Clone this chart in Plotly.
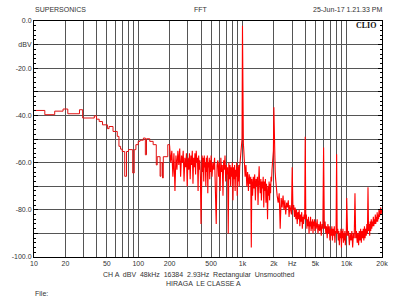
import math
import plotly.graph_objects as go

# Low-frequency part of the FFT (drawn as bins / steps)
low_freq = [10, 12.7, 15.8, 19.0, 21.1, 27.3, 29.3, 37.9, 39.8, 42.2, 45.4, 50.6, 52.5,
            57.3, 62.9, 65.3, 67.7, 70.2, 74.2, 77.2, 80.6, 88.5, 91.5, 95, 100, 104,
            112, 117, 120, 129, 139, 149, 152, 162, 165, 171, 174, 192, 200]
low_db = [-37.9, -39.7, -38.2, -37.3, -39.3, -37.6, -41.1, -40.2, -41.6, -42.6, -44.0, -45.6, -44.7,
          -46.8, -48.9, -53.1, -54.3, -55.3, -65.8, -55.3, -54.5, -64.4, -54.5, -52.4, -51.0, -50.5,
          -49.6, -56.7, -49.9, -51.0, -52.4, -61.0, -57.5, -65.8, -60.0, -66.5, -57.5, -52.4, -53.0]

# 200 Hz - 500 Hz
band1_freq = [200, 205, 210, 215, 220, 225, 230, 235, 240, 245, 250, 255, 260, 265, 270, 275, 280, 285, 290, 295,
              300, 305, 310, 315, 320, 325, 330, 335, 340, 345, 350, 355, 360, 365, 370, 375, 380, 385, 390, 395,
              400, 405, 410, 415, 420, 425, 430, 435, 440, 445, 450, 455, 460, 465, 470, 475, 480, 485, 490, 495]
band1_db = [-53, -60, -55, -66, -56, -72, -57, -63, -55, -61, -54, -66, -57, -60, -55, -68, -58, -62, -56, -70,
            -58, -63, -56, -67, -57, -61, -55, -69, -58, -62, -56, -65, -55, -60, -58, -72, -57, -63, -59, -66,
            -86, -61, -57, -64, -58, -68, -57, -62, -60, -70, -58, -64, -57, -73, -60, -62, -58, -67, -59, -64]

# 500 Hz - 1.03 kHz (fundamental at 1 kHz)
band2_freq = [500, 510, 520, 530, 540, 550, 560, 570, 580, 590, 600, 610, 620, 630, 640, 650, 660, 670, 680, 690,
              700, 710, 720, 730, 740, 750, 760, 770, 780, 790, 800, 810, 820, 830, 840, 850, 860, 870, 880, 890,
              900, 910, 920, 930, 940, 950, 960, 970, 980, 990, 1000, 1010, 1020, 1030]
band2_db = [-57, -66, -60, -63, -58, -70, -86, -61, -59, -66, -60, -72, -58, -64, -61, -74, -59, -63, -57, -68,
            -61, -65, -62, -90, -60, -67, -61, -70, -62, -66, -60, -76, -62, -67, -61, -72, -63, -66, -60, -74,
            -62, -68, -61, -70, -62, -60, -57, -55, -52, -50, -2, -49, -52, -55]

# 1.04 kHz - 2.1 kHz (2nd harmonic at 2 kHz)
band3_freq = [1040, 1060, 1080, 1100, 1120, 1140, 1160, 1180, 1200, 1215, 1230, 1250, 1270, 1290, 1310, 1330,
              1350, 1370, 1390, 1410, 1430, 1445, 1460, 1480, 1500, 1520, 1540, 1560, 1580, 1600, 1620, 1640,
              1660, 1680, 1700, 1720, 1740, 1760, 1780, 1800, 1820, 1840, 1860, 1880, 1900, 1920, 1940, 1960,
              1980, 2000, 2020, 2040, 2060, 2080, 2100]
band3_db = [-58, -66, -61, -70, -64, -72, -65, -69, -66, -96, -67, -74, -66, -71, -65, -76,
            -67, -70, -66, -78, -67, -61.6, -69, -73, -67, -76, -68, -71, -66, -79, -68, -72,
            -67, -77, -69, -73, -84, -70, -74, -68, -76, -69, -73, -66, -68, -63, -61, -58,
            -55, -36.5, -56, -60, -64, -67, -70]

# 2.15 kHz - 4.95 kHz
band4_freq = [2150, 2200, 2250, 2300, 2350, 2400, 2450, 2500, 2550, 2600, 2650, 2700, 2750, 2800, 2850, 2900,
              2950, 3000, 3050, 3100, 3150, 3200, 3250, 3300, 3350, 3400, 3450, 3500, 3550, 3600, 3650, 3700,
              3750, 3800, 3850, 3900, 3950, 4000, 4050, 4100, 4150, 4200, 4250, 4300, 4350, 4400, 4450, 4500,
              4550, 4600, 4650, 4700, 4750, 4800, 4850, 4900, 4950]
band4_db = [-74, -77, -73, -88, -75, -79, -74, -80, -76, -82, -77, -79, -76, -83, -78, -80,
            -82, -62, -80, -78, -83, -79, -84, -80, -86, -81, -84, -80, -87, -82, -85, -81,
            -88, -83, -86, -82, -84, -49, -84, -82, -88, -84, -87, -83, -90, -85, -87, -83,
            -89, -85, -88, -84, -90, -85, -87, -84, -89]

# 5 kHz - 10 kHz
band5_freq = [5000, 5100, 5200, 5300, 5400, 5500, 5600, 5700, 5800, 5900, 6000, 6100, 6200, 6300, 6400, 6500,
              6600, 6700, 6800, 6900, 7000, 7100, 7200, 7300, 7400, 7500, 7600, 7700, 7800, 7900, 8000, 8100,
              8200, 8300, 8400, 8500, 8600, 8700, 8800, 8900, 9000, 9100, 9200, 9300, 9400, 9500, 9600, 9700,
              9800, 9900, 10000]
band5_db = [-85, -88, -84, -90, -86, -89, -85, -91, -86, -88, -53.6, -88, -85, -90, -87, -92,
            -86, -90, -87, -93, -88, -91, -87, -93, -88, -91, -87, -94, -89, -90, -56.5, -90,
            -88, -93, -89, -95, -90, -92, -88, -96, -89, -92, -88, -94, -90, -93, -89, -95,
            -90, -91, -75]

# 10.2 kHz - 21.8 kHz
band6_freq = [10200, 10400, 10600, 10800, 11000, 11200, 11400, 11600, 11800, 12000, 12200, 12400, 12600, 12800,
              13000, 13200, 13400, 13600, 13800, 14000, 14200, 14400, 14600, 14800, 15000, 15200, 15400, 15600,
              15800, 16000, 16200, 16400, 16600, 16800, 17000, 17200, 17400, 17600, 17800, 18000, 18200, 18400,
              18600, 18800, 19000, 19200, 19400, 19600, 19800, 20000, 20200, 20400, 20600, 20800, 21000, 21200,
              21400, 21600, 21800]
band6_db = [-91, -89, -95, -90, -93, -89, -96, -90, -92, -73, -92, -89, -94, -90,
            -95, -89, -93, -88, -94, -89, -92, -88, -93, -87, -92, -88, -91, -86,
            -90, -70.5, -89, -86, -91, -85, -89, -84, -88, -85, -87, -83, -87, -84,
            -86, -82, -86, -83, -85, -81, -85, -82, -84, -80, -83, -81, -82, -79,
            -82, -80, -81]

x_tick_vals = [10, 20, 30, 40, 50, 60, 70, 80, 90, 100, 200, 300, 400, 500, 600, 700, 800, 900,
               1000, 2000, 3000, 4000, 5000, 6000, 7000, 8000, 9000, 10000, 21800]
x_tick_text = ["10", "20", "", "", "50", "", "", "", "", "100", "200", "", "", "500", "", "", "", "",
               "1k", "2k", "Hz", "", "5k", "", "", "", "", "10k", "20k"]
y_tick_vals = [0, -10, -20, -30, -40, -50, -60, -70, -80, -90, -100]
y_tick_text = ["0.0", "dBV", "-20.0", "", "-40.0", "", "-60.0", "", "-80.0", "", "-100.0"]

bands = [(band1_freq, band1_db), (band2_freq, band2_db), (band3_freq, band3_db),
         (band4_freq, band4_db), (band5_freq, band5_db), (band6_freq, band6_db)]
high_freq, high_db = [], []
for bf, bd in bands:
    assert len(bf) == len(bd)
    high_freq += bf
    high_db += bd
assert len(low_freq) == len(low_db)

FONT = "Liberation Sans, Arial, sans-serif"
TXT = "#333333"

fig = go.Figure()
fig.add_trace(go.Scatter(x=low_freq, y=low_db, mode="lines",
                         line=dict(color="#e01010", width=1, shape="hv"), hoverinfo="skip"))
fig.add_trace(go.Scatter(x=high_freq, y=high_db, mode="lines",
                         line=dict(color="#ff0000", width=1.1), hoverinfo="skip"))

W, H = 400, 300
L, R, T, B = 31, 17, 21, 43
pw, ph = W - L - R, H - T - B


def px(x):
    return (x - L) / pw


def py(y):
    return (H - B - y) / ph


annos = [
    dict(text="SUPERSONICS", x=px(30), y=py(10), xanchor="left"),
    dict(text="FFT", x=px(200), y=py(10), xanchor="center"),
    dict(text="25-Jun-17 1.21.33 PM", x=px(385), y=py(10), xanchor="right"),
    dict(text="CH A  dBV  48kHz  16384  2.93Hz  Rectangular  Unsmoothed", x=px(198), y=py(275), xanchor="center"),
    dict(text="HIRAGA  LE CLASSE A", x=px(202), y=py(283), xanchor="center"),
    dict(text="File:", x=px(30), y=py(293), xanchor="left"),
]
for a in annos:
    fig.add_annotation(xref="paper", yref="paper", yanchor="middle", showarrow=False,
                       font=dict(family=FONT, size=7, color=TXT), **a)
fig.add_annotation(xref="paper", yref="paper", x=px(379), y=py(25.5), xanchor="right", yanchor="middle",
                   text="<b>CLIO</b>", showarrow=False,
                   font=dict(family="Liberation Serif, Times New Roman, serif", size=8, color="#111111"))

fig.update_layout(
    width=W, height=H, margin=dict(l=L, r=R, t=T, b=B, pad=0),
    paper_bgcolor="white", plot_bgcolor="white", showlegend=False,
    font=dict(family=FONT, size=7, color=TXT),
    xaxis=dict(type="log", range=[1, math.log10(21800)], tickvals=x_tick_vals, ticktext=x_tick_text,
               showgrid=True, gridcolor="#555555", gridwidth=1, showline=True, linecolor="black",
               linewidth=1, mirror=True, ticks="", zeroline=False, tickfont=dict(size=7, color=TXT)),
    yaxis=dict(range=[-100, 0], tickvals=y_tick_vals, ticktext=y_tick_text,
               showgrid=True, gridcolor="#555555", gridwidth=1, showline=True, linecolor="black",
               linewidth=1, mirror="allticks", ticks="inside", ticklen=4, tickcolor="black",
               zeroline=False, tickfont=dict(size=7, color=TXT),
               minor=dict(dtick=2, ticks="inside", ticklen=2, tickcolor="black", showgrid=False)),
)

fig.write_html("out.html")
